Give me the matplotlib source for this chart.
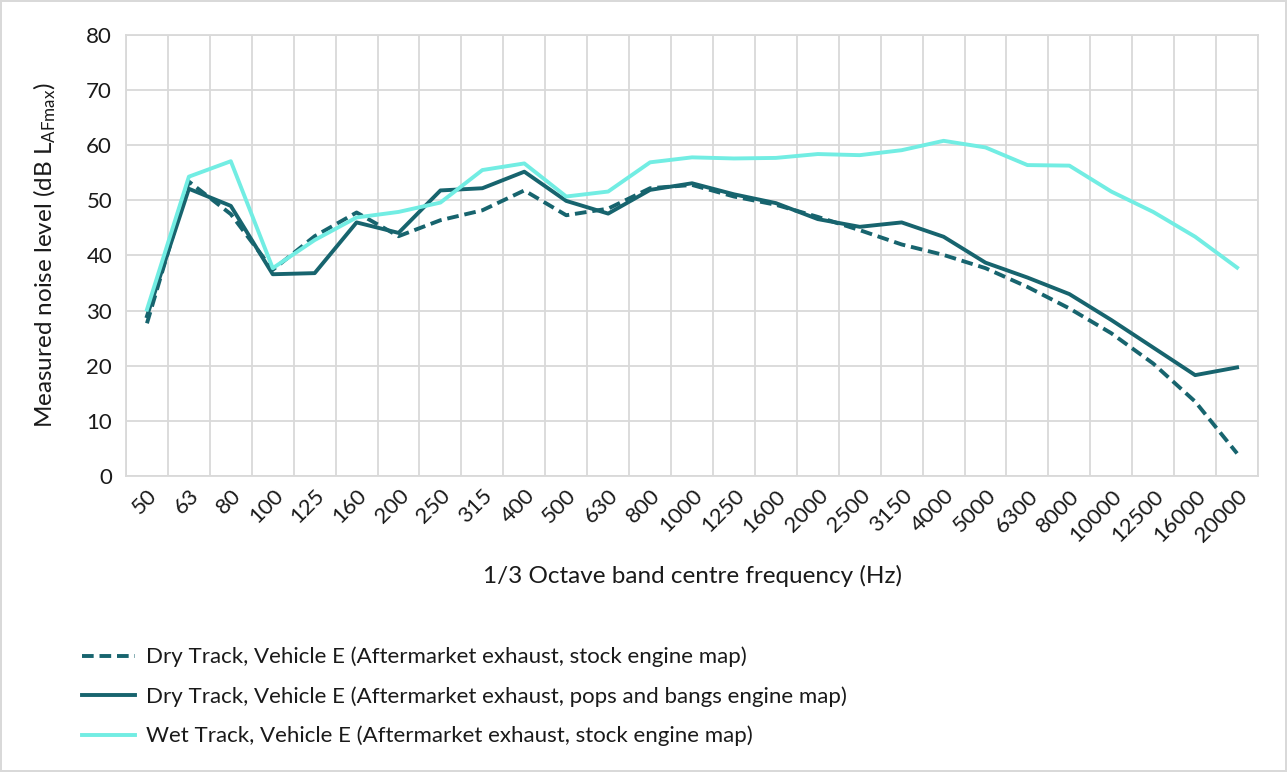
import numpy as np
import matplotlib
matplotlib.use('Agg')
import matplotlib.pyplot as plt

plt.rcParams['font.family'] = ['Lato', 'DejaVu Sans']
plt.rcParams['mathtext.default'] = 'regular'

# 1/3 octave band centre frequencies (Hz)
bands = ['50', '63', '80', '100', '125', '160', '200', '250', '315', '400',
         '500', '630', '800', '1000', '1250', '1600', '2000', '2500', '3150',
         '4000', '5000', '6300', '8000', '10000', '12500', '16000', '20000']

# LAFmax per band, dB
dry_stock = [27.7, 53.4, 47.5, 37.4, 43.5, 47.8, 43.5, 46.4, 48.2, 51.8,
             47.3, 48.5, 52.2, 52.8, 50.7, 49.2, 47.0, 44.6, 42.0,
             40.1, 37.7, 34.3, 30.4, 25.9, 20.4, 13.5, 4.1]
dry_pops = [29.0, 52.1, 49.0, 36.6, 36.8, 46.0, 44.1, 51.8, 52.2, 55.2,
            49.9, 47.6, 51.9, 53.1, 51.1, 49.5, 46.6, 45.2, 46.0,
            43.4, 38.7, 36.0, 33.0, 28.3, 23.3, 18.3, 19.7]
wet_stock = [30.2, 54.3, 57.1, 37.7, 42.8, 46.9, 47.9, 49.6, 55.5, 56.7,
             50.7, 51.6, 56.9, 57.8, 57.6, 57.7, 58.4, 58.2, 59.1,
             60.8, 59.6, 56.4, 56.3, 51.6, 47.9, 43.4, 37.8]

series_names = ['Dry Track, Vehicle E (Aftermarket exhaust, stock engine map)',
                'Dry Track, Vehicle E (Aftermarket exhaust, pops and bangs engine map)',
                'Wet Track, Vehicle E (Aftermarket exhaust, stock engine map)']

dark = '#17646e'
light = '#72ede3'
grid_col = '#d9d9d9'
txt = '#1a1a1a'

fig = plt.figure(figsize=(12.87, 7.72), dpi=100)
fig.patch.set_edgecolor('#d9d9d9')
fig.patch.set_linewidth(1.5)
ax = fig.add_axes([0.0979, 0.3834, 0.8796, 0.5713])

x = np.arange(len(bands))
l1, = ax.plot(x, dry_stock, color=dark, lw=2.8, ls=(0, (3.0, 1.5)))
l2, = ax.plot(x, dry_pops, color=dark, lw=2.8)
l3, = ax.plot(x, wet_stock, color=light, lw=2.8)

ax.set_xlim(-0.5, len(bands) - 0.5)
ax.set_ylim(0, 80)
ax.set_yticks(np.arange(0, 81, 10))
ax.set_xticks(x)
ax.set_xticklabels(bands, rotation=45, ha='right', rotation_mode='anchor')
ax.set_xticks(np.arange(-0.5, len(bands)), minor=True)

ax.grid(axis='y', color=grid_col, lw=1.3)
ax.grid(axis='x', which='minor', color=grid_col, lw=1.3)
ax.set_axisbelow(True)
for s in ax.spines.values():
    s.set_color(grid_col)
    s.set_linewidth(1.3)
ax.tick_params(axis='both', which='both', length=0, labelsize=16, colors=txt)
ax.tick_params(axis='y', pad=10)
ax.tick_params(axis='x', pad=7)

ax.set_ylabel('Measured noise level (dB L$_{AFmax}$)', fontsize=17.5, color=txt, labelpad=20)
ax.set_xlabel('1/3 Octave band centre frequency (Hz)', fontsize=17.5, color=txt, labelpad=14)

leg = fig.legend([l1, l2, l3], series_names, loc='upper left',
                 bbox_to_anchor=(0.048, 0.188), frameon=False, fontsize=16,
                 handlelength=2.4, labelspacing=0.85, handletextpad=0.5)
for t in leg.get_texts():
    t.set_color(txt)

fig.savefig('out.png', dpi=100)
